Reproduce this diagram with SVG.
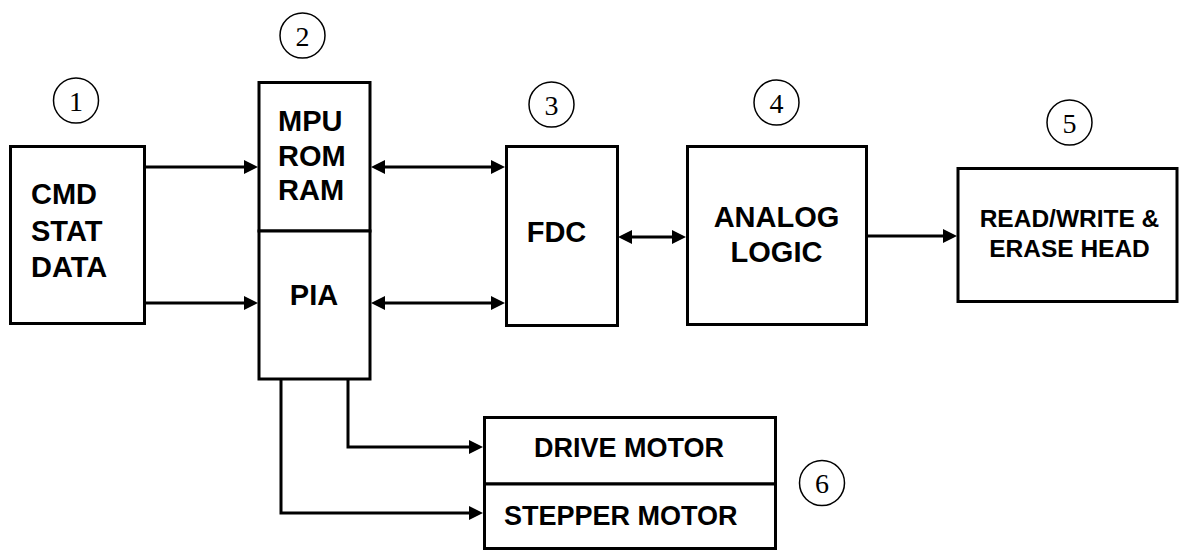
<svg xmlns="http://www.w3.org/2000/svg" width="1180" height="551" viewBox="0 0 1180 551">
<style>
.box{fill:#fff;stroke:#000;stroke-width:3}
.lbl{font-family:"Liberation Sans",Arial,sans-serif;font-weight:bold;font-size:29px;fill:#000}
.sm{font-size:24.5px}
.mt{font-size:27px}
.num circle{fill:none;stroke:#000;stroke-width:1.5}
.num text{font-family:"Liberation Serif","Times New Roman",serif;font-size:28px;fill:#000;text-anchor:middle}
.conn{fill:none;stroke:#000;stroke-width:3}
</style>
<defs>
<marker id="ah" viewBox="0 0 14 14" markerUnits="userSpaceOnUse" markerWidth="14" markerHeight="14" refX="4" refY="7" orient="auto-start-reverse">
<path d="M0,0 L14,7 L0,14 z" fill="#000"/>
</marker>
</defs>
<rect width="1180" height="551" fill="#fff"/>

<g id="connectors">
<path class="conn" d="M146,167 H248" marker-end="url(#ah)"/>
<path class="conn" d="M146,303 H248" marker-end="url(#ah)"/>
<path class="conn" d="M381,167 H495" marker-start="url(#ah)" marker-end="url(#ah)"/>
<path class="conn" d="M381,303 H495" marker-start="url(#ah)" marker-end="url(#ah)"/>
<path class="conn" d="M628,237 H676" marker-start="url(#ah)" marker-end="url(#ah)"/>
<path class="conn" d="M868,236 H947" marker-end="url(#ah)"/>
<path class="conn" d="M348,380 V447 H473" marker-end="url(#ah)"/>
<path class="conn" d="M281,380 V513 H473" marker-end="url(#ah)"/>
</g>

<g id="node-cmd">
<rect class="box" x="10.5" y="146.5" width="134" height="177"/>
<text class="lbl" x="31" y="204">CMD</text>
<text class="lbl" x="31" y="241">STAT</text>
<text class="lbl" x="31" y="277">DATA</text>
</g>

<g id="node-mpu">
<rect class="box" x="259" y="82.5" width="111" height="148.5"/>
<text class="lbl" x="278" y="131">MPU</text>
<text class="lbl" x="278" y="166">ROM</text>
<text class="lbl" x="278" y="200">RAM</text>
</g>

<g id="node-pia">
<rect class="box" x="259" y="231" width="111" height="148"/>
<text class="lbl" x="314" y="305" text-anchor="middle">PIA</text>
</g>

<g id="node-fdc">
<rect class="box" x="506.5" y="146.5" width="111" height="179"/>
<text class="lbl" x="556.5" y="242" text-anchor="middle">FDC</text>
</g>

<g id="node-analog">
<rect class="box" x="687.5" y="146.5" width="179" height="178"/>
<text class="lbl" x="776.5" y="227" text-anchor="middle">ANALOG</text>
<text class="lbl" x="776.5" y="262" text-anchor="middle">LOGIC</text>
</g>

<g id="node-head">
<rect class="box" x="958" y="168.5" width="219" height="133"/>
<text class="lbl sm" x="1069.5" y="227" text-anchor="middle">READ/WRITE &amp;</text>
<text class="lbl sm" x="1069.5" y="257" text-anchor="middle">ERASE HEAD</text>
</g>

<g id="node-drive">
<rect class="box" x="484.5" y="417.5" width="291" height="66.5"/>
<text class="lbl mt" x="629" y="457" text-anchor="middle">DRIVE MOTOR</text>
</g>

<g id="node-stepper">
<rect class="box" x="484.5" y="484" width="291" height="64.5"/>
<text class="lbl mt" x="504" y="525">STEPPER MOTOR</text>
</g>

<g id="num-1" class="num"><circle cx="76" cy="100.5" r="22.5"/><text x="76" y="110.5">1</text></g>
<g id="num-2" class="num"><circle cx="302.5" cy="35.5" r="22.5"/><text x="302.5" y="45.5">2</text></g>
<g id="num-3" class="num"><circle cx="551.5" cy="104.5" r="22.5"/><text x="551.5" y="114.5">3</text></g>
<g id="num-4" class="num"><circle cx="776.5" cy="102.5" r="22.5"/><text x="776.5" y="112.5">4</text></g>
<g id="num-5" class="num"><circle cx="1069.5" cy="122.5" r="22.5"/><text x="1069.5" y="132.5">5</text></g>
<g id="num-6" class="num"><circle cx="822" cy="483" r="22.5"/><text x="822" y="493">6</text></g>
</svg>
